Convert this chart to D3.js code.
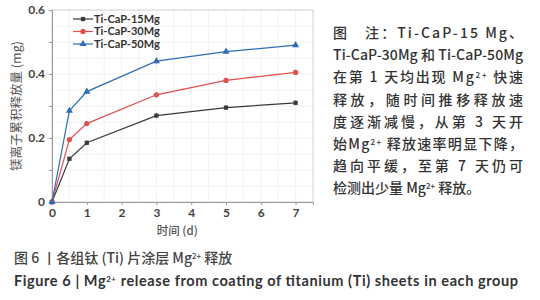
<!DOCTYPE html>
<html>
<head>
<meta charset="utf-8">
<script src="https://cdn.jsdelivr.net/npm/d3@7"></script>
<style>
  body { margin: 0; background: #fff; }
  svg { display: block; }
</style>
</head>
<body>
<svg id="chart" width="540" height="300"></svg>
<script>
// data
const days = [0, 0.5, 1, 3, 5, 7];
const mg15 = [0, 0.135, 0.185, 0.27, 0.295, 0.31];
const mg30 = [0, 0.195, 0.245, 0.335, 0.38, 0.405];
const mg50 = [0, 0.285, 0.345, 0.44, 0.47, 0.49];
const err15 = [0, 0.006, 0.008, 0.009, 0.007, 0.008];
const err30 = [0, 0.006, 0.006, 0.008, 0.007, 0.008];
const err50 = [0, 0.007, 0.006, 0.010, 0.006, 0.006];
const seriesNames = ['Ti-CaP-15Mg', 'Ti-CaP-30Mg', 'Ti-CaP-50Mg'];
const xTicks = [0, 1, 2, 3, 4, 5, 6, 7];
const yTicks = [0, 0.2, 0.4, 0.6];

const margin = { top: 10, right: 227, bottom: 98, left: 52 };

let svg = d3.select('#chart');
let w = 540 - margin.left - margin.right,
	h = 300 - margin.top - margin.bottom;

let xScale = d3.scaleLinear().domain([0, 7.5]).range([0, w]);
let yScale = d3.scaleLinear().domain([0, 0.6]).range([h, 0]);

let g = svg.append('g').attr('transform', `translate(${margin.left},${margin.top})`);

// faint grid
g.selectAll('.vgrid').data(d3.range(0.5, 7.5, 0.5)).join('line')
	.attr('x1', d => xScale(d)).attr('x2', d => xScale(d))
	.attr('y1', 0).attr('y2', h)
	.attr('stroke', '#f2f2f2').attr('stroke-width', 1);
g.selectAll('.hgrid').data(d3.range(0.05, 0.6, 0.05)).join('line')
	.attr('x1', 0).attr('x2', w)
	.attr('y1', d => yScale(d)).attr('y2', d => yScale(d))
	.attr('stroke', '#f2f2f2').attr('stroke-width', 1);

// frame top / right
g.append('rect').attr('x', 0).attr('y', 0).attr('width', w).attr('height', h)
	.attr('fill', 'none').attr('stroke', '#d0d0d0');

let xAxis = g.append('g').attr('class', 'xAxis')
	.attr('transform', `translate(0,${h})`)
	.call(d3.axisBottom(xScale).tickValues(xTicks).tickFormat(d3.format('d')).tickSize(3));
let yAxis = g.append('g').attr('class', 'yAxis')
	.call(d3.axisLeft(yScale).tickValues(d3.range(0, 0.61, 0.1)).tickSize(3)
		.tickFormat(d => yTicks.some(t => Math.abs(t - d) < 1e-9) ? (d === 0 ? '0' : d3.format('.1f')(d)) : ''));

[xAxis, yAxis].forEach(a => {
	a.select('.domain').attr('stroke', '#999');
	a.selectAll('.tick line').attr('stroke', '#999');
	a.selectAll('text')
		.attr('font-family', 'Lato, "Open Sans", sans-serif')
		.attr('font-size', 12).attr('font-weight', 'bold').attr('fill', '#444');
});
xAxis.selectAll('text').attr('dy', '0.75em');
yAxis.selectAll('text').attr('dx', '-1px');

// axis titles
svg.append('text')
	.attr('x', margin.left + xScale(3.6)).attr('y', 235)
	.attr('text-anchor', 'middle')
	.attr('font-family', '"Noto Sans CJK SC", sans-serif').attr('font-size', 11.5)
	.attr('font-weight', 500).attr('fill', '#555')
	.text('时间 (d)');
svg.append('text')
	.attr('transform', `translate(21,${margin.top + yScale(0.3)}) rotate(-90)`)
	.attr('text-anchor', 'middle')
	.attr('font-family', '"Noto Sans CJK SC", sans-serif').attr('font-size', 12.5)
	.attr('fill', '#555')
	.text('镁离子累积释放量 (mg)');

// series
let seriesData = [
	{ name: seriesNames[0], vals: mg15, err: err15, color: '#3a3a3a', marker: d3.symbolSquare, size: 18 },
	{ name: seriesNames[1], vals: mg30, err: err30, color: '#e0504f', marker: d3.symbolCircle, size: 22 },
	{ name: seriesNames[2], vals: mg50, err: err50, color: '#2e6db4', marker: d3.symbolTriangle, size: 22 }
];

let lineFn = d3.line().x(d => xScale(d.x)).y(d => yScale(d.y));

seriesData.forEach(s => {
	let pts = days.map((x, i) => ({ x: x, y: s.vals[i], e: s.err[i] }));
	let sg = g.append('g').attr('class', 'series');

	sg.selectAll('.err').data(pts.filter(p => p.e > 0)).join('line')
		.attr('x1', d => xScale(d.x)).attr('x2', d => xScale(d.x))
		.attr('y1', d => yScale(d.y - d.e)).attr('y2', d => yScale(d.y + d.e))
		.attr('stroke', '#999').attr('stroke-width', 1);

	sg.append('path').datum(pts)
		.attr('d', lineFn)
		.attr('fill', 'none').attr('stroke', s.color).attr('stroke-width', 1.2);

	sg.selectAll('.mark').data(pts).join('path')
		.attr('transform', d => `translate(${xScale(d.x)},${yScale(d.y)})`)
		.attr('d', d3.symbol().type(s.marker).size(s.size))
		.attr('fill', s.color);
});

// legend
let legend = g.append('g').attr('transform', 'translate(21,9)');
seriesData.forEach((s, i) => {
	let lg = legend.append('g').attr('transform', `translate(0,${i * 12.5})`);
	lg.append('line').attr('x1', 0).attr('x2', 20).attr('y1', 0).attr('y2', 0)
		.attr('stroke', s.color).attr('stroke-width', 1.2);
	lg.append('path').attr('transform', 'translate(10,0)')
		.attr('d', d3.symbol().type(s.marker).size(s.size)).attr('fill', s.color);
	lg.append('text').attr('x', 21).attr('y', 0).attr('dy', '0.35em')
		.attr('font-family', 'Lato, "Open Sans", sans-serif').attr('font-size', 11)
		.attr('font-weight', 'bold').attr('fill', '#333')
		.text(s.name);
});

// note text on the right
const noteLines = [
	[['图　注：Ti-CaP-15 Mg、']],
	[['Ti-CaP-30Mg 和 Ti-CaP-50Mg']],
	[['在第 1 天均出现 Mg'], ['2+', 'sup'], [' 快速']],
	[['释放，随时间推移释放速']],
	[['度逐渐减慢，从第 3 天开']],
	[['始Mg'], ['2+', 'sup'], [' 释放速率明显下降，']],
	[['趋向平缓，至第 7 天仍可']],
	[['检测出少量 Mg'], ['2+', 'sup'], [' 释放。']]
];

let note = svg.append('g').attr('class', 'note');
noteLines.forEach((parts, i) => {
	let t = note.append('text')
		.attr('x', 333).attr('y', 38 + i * 22.2)
		.attr('font-family', '"Noto Sans CJK SC", sans-serif').attr('font-size', 14)
		.attr('font-weight', 500).attr('fill', '#333');
	if (i < noteLines.length - 1) t.attr('textLength', 190).attr('lengthAdjust', 'spacing');
	parts.forEach(p => {
		let ts = t.append('tspan').text(p[0]);
		if (p[1] === 'sup') ts.attr('font-size', 8).attr('baseline-shift', '55%');
	});
});

// captions
let cap1 = svg.append('text').attr('x', 14).attr('y', 263)
	.attr('font-family', '"Noto Sans CJK SC", sans-serif').attr('font-size', 14)
	.attr('font-weight', 500).attr('fill', '#444');
cap1.append('tspan').text('图 6 丨各组钛 (Ti) 片涂层 Mg');
cap1.append('tspan').attr('font-size', 8).attr('baseline-shift', '55%').text('2+');
cap1.append('tspan').text(' 释放');

let cap2 = svg.append('text').attr('x', 14).attr('y', 286)
	.attr('font-family', 'Lato, "Open Sans", sans-serif').attr('font-size', 14.5)
	.attr('font-weight', 'bold').attr('fill', '#333')
	.attr('textLength', 504).attr('lengthAdjust', 'spacing');
cap2.append('tspan').text('Figure 6  |  Mg');
cap2.append('tspan').attr('font-size', 8).attr('baseline-shift', '55%').text('2+');
cap2.append('tspan').text(' release from coating of titanium (Ti) sheets in each group');
</script>
</body>
</html>
